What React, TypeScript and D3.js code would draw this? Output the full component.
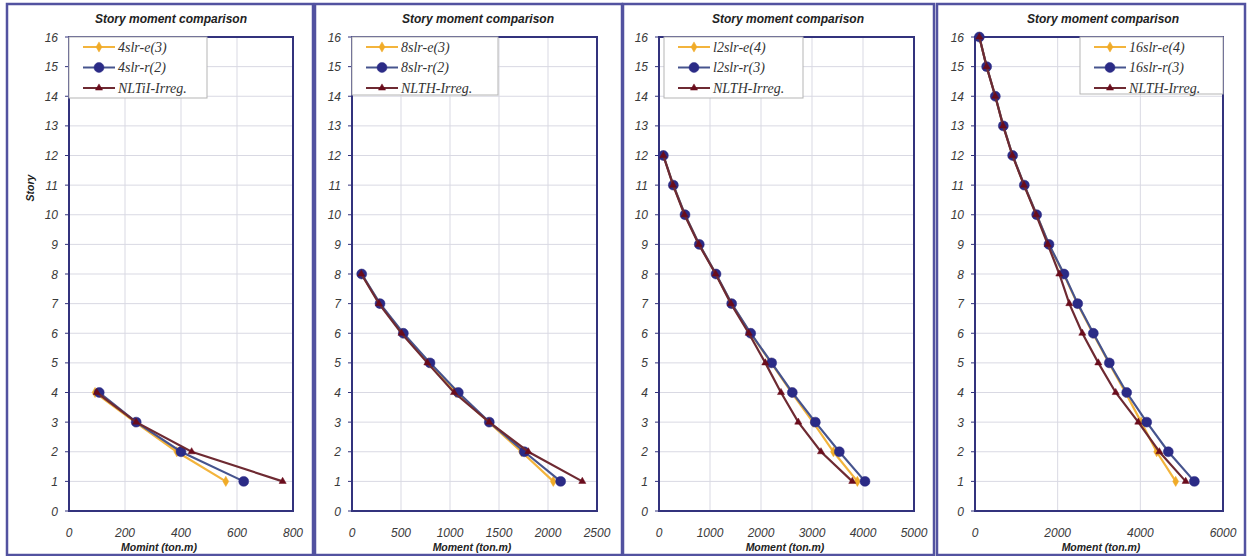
import React from 'react';
import * as d3 from 'd3';

const width = 1248;
const height = 556;

// story levels (y categories) and y tick labels
const storyLevels = [1, 2, 3, 4, 5, 6, 7, 8, 9, 10, 11, 12, 13, 14, 15, 16];
const storyTicks = [0, 1, 2, 3, 4, 5, 6, 7, 8, 9, 10, 11, 12, 13, 14, 15, 16];

// x tick labels per panel
const xTicks4 = [0, 200, 400, 600, 800];
const xTicks8 = [0, 500, 1000, 1500, 2000, 2500];
const xTicks12 = [0, 1000, 2000, 3000, 4000, 5000];
const xTicks16 = [0, 2000, 4000, 6000];

// moments, story 1 upward
const e4 = [560, 385, 236, 93];
const r4 = [624, 400, 240, 108];
const n4 = [763, 438, 240, 99];

const e8 = [2054, 1730, 1395, 1060, 780, 515, 282, 97];
const r8 = [2129, 1758, 1401, 1085, 796, 524, 286, 99];
const n8 = [2350, 1799, 1400, 1041, 769, 505, 275, 95];

const e12 = [3890, 3420, 3020, 2600, 2200, 1790, 1420, 1115, 788, 508, 280, 85];
const r12 = [4039, 3536, 3065, 2614, 2209, 1798, 1425, 1118, 790, 510, 281, 85];
const n12 = [3790, 3176, 2731, 2392, 2085, 1760, 1410, 1110, 780, 500, 275, 85];

const e16 = [4855, 4395, 4020, 3640, 3240, 2850, 2475, 2145, 1785, 1490, 1190, 910, 685, 492, 282, 105];
const r16 = [5307, 4677, 4154, 3670, 3250, 2863, 2485, 2153, 1790, 1492, 1193, 911, 685, 492, 282, 105];
const n16 = [5097, 4460, 3951, 3404, 2984, 2597, 2282, 2040, 1760, 1480, 1185, 905, 680, 490, 280, 105];

// legend names
const names4 = ['4slr-e(3)', '4slr-r(2)', 'NLTiI-Irreg.'];
const names8 = ['8slr-e(3)', '8slr-r(2)', 'NLTH-Irreg.'];
const names12 = ['l2slr-e(4)', 'l2slr-r(3)', 'NLTH-Irreg.'];
const names16 = ['16slr-e(4)', '16slr-r(3)', 'NLTH-Irreg.'];

const chartTitle = 'Story moment comparison';
const xTitles = ['Momint (ton.m)', 'Moment (ton.m)', 'Moment (ton.m)', 'Moment (ton.m)'];

const yellow = '#f3b43c';
const blue = '#46548e';
const maroon = '#6e2a32';
const frameColor = '#5252a0';
const plotBorder = '#33337d';
const gridColor = '#d9d9e3';
const sans = '"Liberation Sans", Arial, sans-serif';
const serif = '"Liberation Serif", "Times New Roman", serif';

const plotTop = 37;
const plotBottom = 511;

const panels = [
  {frame: [7, 313], left: 69, right: 293, ticks: xTicks4, series: [e4, r4, n4], names: names4, titleX: 171, xTitleX: 159, legendX: 69, legendW: 138, legendH: 61},
  {frame: [315, 622], left: 352, right: 597, ticks: xTicks8, series: [e8, r8, n8], names: names8, titleX: 478, xTitleX: 472, legendX: 352, legendW: 146, legendH: 58},
  {frame: [623, 934], left: 659, right: 914, ticks: xTicks12, series: [e12, r12, n12], names: names12, titleX: 788, xTitleX: 785, legendX: 664, legendW: 139, legendH: 61},
  {frame: [937, 1245], left: 975, right: 1223, ticks: xTicks16, series: [e16, r16, n16], names: names16, titleX: 1103, xTitleX: 1101, legendX: 1080, legendW: 143, legendH: 57},
];

const seriesStyle = [
  {line: yellow, fill: '#f0ab28', symbol: d3.symbolDiamond, size: 30},
  {line: blue, fill: '#2b2b86', symbol: d3.symbolCircle, size: 78},
  {line: maroon, fill: '#6a0c1c', symbol: d3.symbolTriangle, size: 22},
];

function Marker({x, y, i}: {x: number; y: number; i: number}) {
  const s = seriesStyle[i];
  const path = d3.symbol().type(s.symbol).size(s.size)() || '';
  return <path d={path} transform={`translate(${x},${y})`} fill={s.fill} stroke={s.fill} strokeWidth={0.5} />;
}

function Panel({p, idx}: {p: typeof panels[number]; idx: number}) {
  const xScale = d3.scaleLinear().domain([0, p.ticks[p.ticks.length - 1]]).range([p.left, p.right]);
  const yScale = d3.scaleLinear().domain([0, 16]).range([plotBottom, plotTop]);
  const line = d3.line<number>()
    .x(d => xScale(d))
    .y((_, j) => yScale(storyLevels[j]));

  return (
    <g>
      <rect x={p.frame[0]} y={4} width={p.frame[1] - p.frame[0]} height={551}
        fill="#fff" stroke={frameColor} strokeWidth={2.5} />
      <text x={p.titleX} y={23} textAnchor="middle" fontFamily={sans} fontSize={12}
        fontWeight="bold" fontStyle="italic" fill="#222">{chartTitle}</text>

      {/* grid */}
      {storyTicks.map(t => (
        <line key={'h' + t} x1={p.left} x2={p.right} y1={yScale(t)} y2={yScale(t)} stroke={gridColor} strokeWidth={1} />
      ))}
      {p.ticks.map(t => (
        <line key={'v' + t} x1={xScale(t)} x2={xScale(t)} y1={plotTop} y2={plotBottom} stroke={gridColor} strokeWidth={1} />
      ))}
      <rect x={p.left} y={plotTop} width={p.right - p.left} height={plotBottom - plotTop}
        fill="none" stroke={plotBorder} strokeWidth={2} />

      {/* y tick labels */}
      {storyTicks.map(t => (
        <g key={'yl' + t}>
          <line x1={p.left - 4} x2={p.left} y1={yScale(t)} y2={yScale(t)} stroke={plotBorder} strokeWidth={1} />
          <text x={p.left - 11} y={yScale(t) + 4.5} textAnchor="end" fontFamily={sans} fontSize={12}
            fontStyle="italic" fill="#3a3a3a">{t}</text>
        </g>
      ))}
      {/* x tick labels */}
      {p.ticks.map(t => (
        <text key={'xl' + t} x={xScale(t)} y={537} textAnchor="middle" fontFamily={sans} fontSize={12}
          fontStyle="italic" fill="#3a3a3a">{t}</text>
      ))}
      <text x={p.xTitleX} y={551} textAnchor="middle" fontFamily={sans} fontSize={10.5}
        fontWeight="bold" fontStyle="italic" fill="#222">{xTitles[idx]}</text>

      {/* legend */}
      <rect x={p.legendX} y={plotTop} width={p.legendW} height={p.legendH} fill="#fff" stroke="#b5b5b5" strokeWidth={1} />
      {p.names.map((name, i) => {
        const ly = 47 + i * 20.5;
        return (
          <g key={name}>
            <line x1={p.legendX + 14} x2={p.legendX + 46} y1={ly} y2={ly} stroke={seriesStyle[i].line} strokeWidth={2} />
            <Marker x={p.legendX + 30} y={ly} i={i} />
            <text x={p.legendX + 49} y={ly + 4.5} fontFamily={serif} fontSize={14} fontStyle="italic" fill="#333">{name}</text>
          </g>
        );
      })}

      {/* series */}
      {p.series.map((vals, i) => (
        <g key={'s' + i}>
          <path d={line(vals) || ''} fill="none" stroke={seriesStyle[i].line} strokeWidth={2.2} />
          {vals.map((v, j) => (
            <Marker key={j} x={xScale(v)} y={yScale(storyLevels[j])} i={i} />
          ))}
        </g>
      ))}
    </g>
  );
}

export default function App() {
  return (
    <svg width={width} height={height} style={{position: 'absolute', left: 0, top: 0, background: '#fff'}}>
      <rect width={width} height={height} fill="#fff" />
      {panels.map((p, i) => <Panel key={i} p={p} idx={i} />)}
      <text transform="translate(34,188) rotate(-90)" textAnchor="middle" fontFamily={sans} fontSize={10.5}
        fontWeight="bold" fontStyle="italic" fill="#222">Story</text>
    </svg>
  );
}
